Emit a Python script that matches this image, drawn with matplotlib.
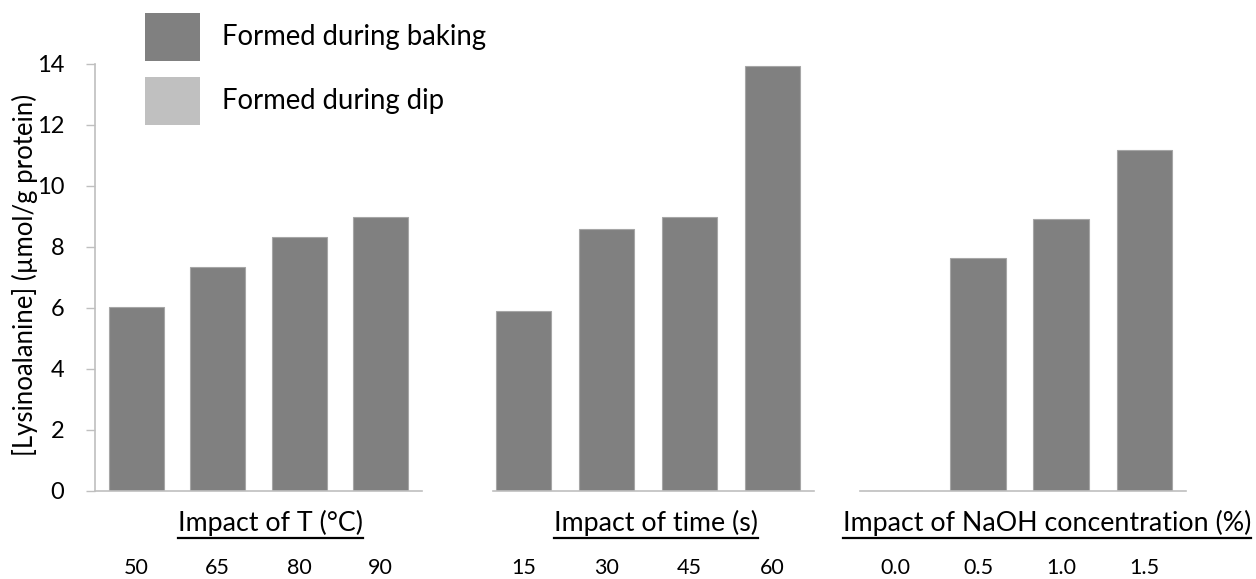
import matplotlib.pyplot as plt
import numpy as np
from matplotlib.patches import Patch
from matplotlib.lines import Line2D

plt.rcParams['font.family'] = ['Lato', 'DejaVu Sans']

# Lysinoalanine formed per condition (umol/g protein)
temp_labels = ['50', '65', '80', '90']
temp_baking = [6.04, 7.35, 8.34, 8.97]
temp_dip = [0, 0, 0, 0]

time_labels = ['15', '30', '45', '60']
time_baking = [5.89, 8.60, 8.97, 13.95]
time_dip = [0, 0, 0, 0]

naoh_labels = ['0.0', '0.5', '1.0', '1.5']
naoh_baking = [0, 7.65, 8.93, 11.17]
naoh_dip = [0, 0, 0, 0]

group_titles = ['Impact of T (°C)', 'Impact of time (s)',
                'Impact of NaOH concentration (%)']

BAKING_COLOR = '#808080'
DIP_COLOR = '#c0c0c0'
AXIS_COLOR = '#bfbfbf'

fig = plt.figure(figsize=(12.56, 5.79), dpi=100)

bottom, height = 0.152, 0.7375
panels = [
    # left, width, xlim, title x (data), labels, baking, dip
    (0.0760, 0.2596, (-0.5, 3.5), 1.65, temp_labels, temp_baking, temp_dip),
    (0.3923, 0.2558, (-0.37, 3.5), 1.60, time_labels, time_baking, time_dip),
    (0.6847, 0.2596, (-0.42, 3.5), 1.83, naoh_labels, naoh_baking, naoh_dip),
]

axes = []
for i, (left, width, xlim, title_x, labels, baking, dip) in enumerate(panels):
    ax = fig.add_axes([left, bottom, width, height])
    x = np.arange(len(labels))
    ax.bar(x, baking, width=0.67, color=BAKING_COLOR,
           edgecolor='#a6a6a6', linewidth=0.8)
    ax.bar(x, dip, width=0.67, bottom=baking, color=DIP_COLOR, linewidth=0)
    ax.set_xlim(*xlim)
    ax.set_ylim(0, 14)

    ax.set_xticks(x)
    ax.set_xticklabels(labels, fontsize=15.5)
    ax.tick_params(axis='x', length=0, pad=48)

    for side in ['top', 'right']:
        ax.spines[side].set_visible(False)
    ax.spines['bottom'].set_color(AXIS_COLOR)
    ax.spines['bottom'].set_linewidth(1.2)

    if i == 0:
        ax.spines['left'].set_color(AXIS_COLOR)
        ax.spines['left'].set_linewidth(1.2)
        ax.set_yticks(np.arange(0, 15, 2))
        ax.tick_params(axis='y', length=6.5, width=1.0, color=AXIS_COLOR,
                       labelsize=17, pad=16)
    else:
        ax.spines['left'].set_visible(False)
        ax.set_yticks([])

    ax.text(title_x, -0.075, group_titles[i], transform=ax.get_xaxis_transform(),
            ha='center', va='center', fontsize=19.3)
    axes.append(ax)

fig.text(25 / 1256, 0.525, '[Lysinoalanine] (µmol/g protein)', rotation=90,
         ha='center', va='center', fontsize=18.5)

handles = [Patch(facecolor=BAKING_COLOR, edgecolor='none'),
           Patch(facecolor=DIP_COLOR, edgecolor='none')]
fig.legend(handles, ['Formed during baking', 'Formed during dip'],
           loc='upper left', bbox_to_anchor=(145 / 1256, 1 - 13 / 579),
           frameon=False, fontsize=19.8, handlelength=2.0, handleheight=2.3,
           handletextpad=0.8, labelspacing=0.58, borderpad=0, borderaxespad=0)

# underline the group titles
fig.canvas.draw()
renderer = fig.canvas.get_renderer()
for ax in axes:
    t = ax.texts[0]
    bb = t.get_window_extent(renderer)
    y = (bb.y0 - 2) / fig.bbox.height
    fig.add_artist(Line2D([bb.x0 / fig.bbox.width, bb.x1 / fig.bbox.width],
                          [y, y], color='black', linewidth=1.6))

fig.savefig('out.png', dpi=100)
